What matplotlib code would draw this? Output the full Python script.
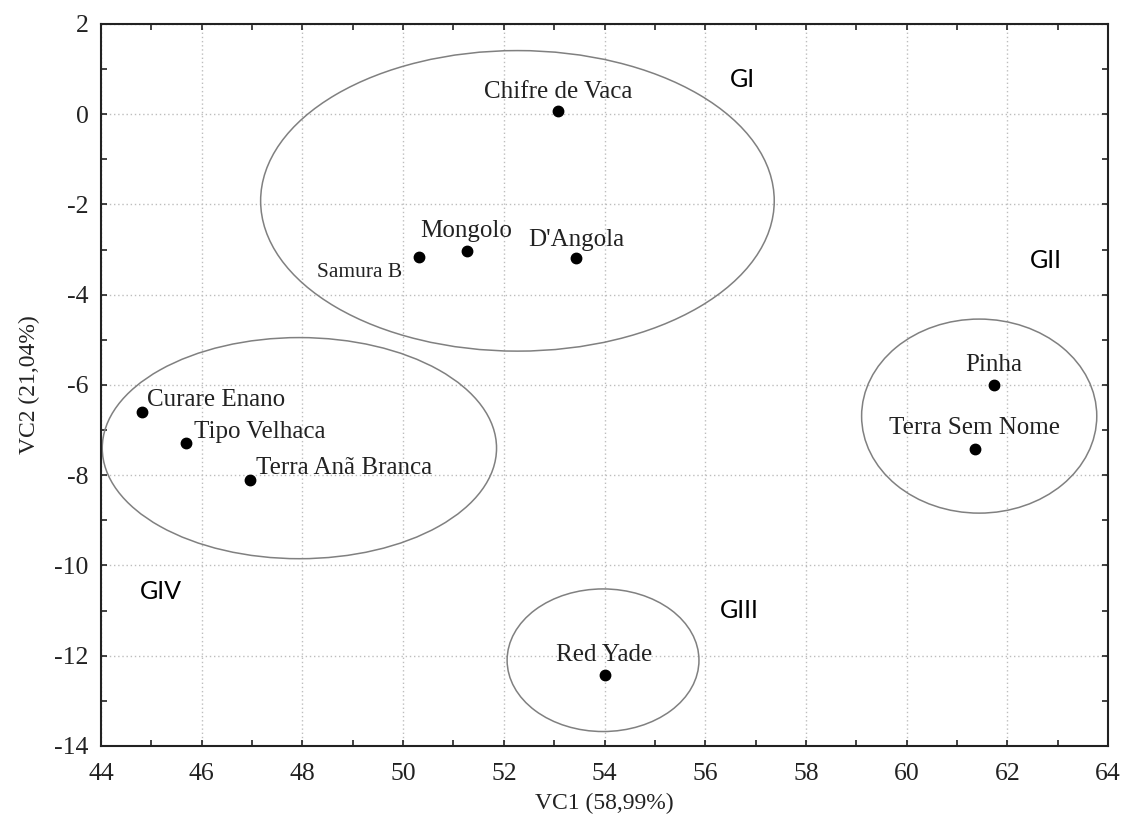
import matplotlib
matplotlib.use("Agg")
import matplotlib.pyplot as plt
from matplotlib.patches import Ellipse
from matplotlib.ticker import MultipleLocator

plt.rcParams["axes.unicode_minus"] = False

# ---- data ----
names = ["Chifre de Vaca", "Mongolo", "D'Angola", "Samura B",
         "Curare Enano", "Tipo Velhaca", "Terra Anã Branca",
         "Pinha", "Terra Sem Nome", "Red Yade"]
vc1 = [53.08, 51.26, 53.43, 50.32, 44.81, 45.69, 46.95, 61.73, 61.35, 54.00]
vc2 = [0.07, -3.03, -3.18, -3.16, -6.61, -7.28, -8.11, -6.00, -7.41, -12.42]

# label placement (offset in points, ha)
label_offsets = [(0, 14, "center"), (0, 14, "center"), (0, 12.5, "center"),
                 (-12, -11.5, "right"), (3.5, 9, "left"), (5.5, 8, "left"),
                 (5, 8.5, "left"), (0, 14.5, "center"), (0, 14.5, "center"),
                 (0, 14.5, "center")]
label_sizes = [18, 18, 18, 15.5, 18, 18, 18, 18, 18, 18]

# group ellipses: center x, center y, width, height
grp_cx = [52.27, 61.44, 53.97, 47.94]
grp_cy = [-1.92, -6.69, -12.10, -7.40]
grp_w = [10.20, 4.67, 3.81, 7.83]
grp_h = [6.66, 4.30, 3.16, 4.90]

grp_names = ["GI", "GII", "GIII", "GIV"]
grp_tx = [56.49, 62.45, 56.29, 44.77]
grp_ty = [0.76, -3.25, -10.99, -10.58]

xlabel = "VC1 (58,99%)"
ylabel = "VC2 (21,04%)"

# ---- figure ----
fig = plt.figure(figsize=(11.26, 8.32), dpi=100)
ax = fig.add_axes([0.0897, 0.1034, 0.8944, 0.8678])

serif = "Liberation Serif"

ax.set_xlim(44, 64)
ax.set_ylim(-14, 2)
ax.xaxis.set_major_locator(MultipleLocator(2))
ax.xaxis.set_minor_locator(MultipleLocator(1))
ax.yaxis.set_major_locator(MultipleLocator(2))
ax.yaxis.set_minor_locator(MultipleLocator(1))
ax.tick_params(which="both", direction="in", top=True, right=True,
               length=4, width=1.2, color="#222222")
ax.tick_params(axis="y", which="major", pad=9)
ax.tick_params(axis="x", which="major", pad=12)
for lab in ax.get_xticklabels() + ax.get_yticklabels():
    lab.set_fontfamily(serif)
    lab.set_fontsize(18.5)
    lab.set_color("#222222")
for s in ax.spines.values():
    s.set_linewidth(1.5)
    s.set_color("#222222")

ax.grid(True, which="major", linestyle=(0, (1, 2)), color="#bdbdbd",
        linewidth=1.0)
ax.set_axisbelow(True)

for cx, cy, w, h in zip(grp_cx, grp_cy, grp_w, grp_h):
    ax.add_patch(Ellipse((cx, cy), w, h, fill=False, edgecolor="#808080",
                         linewidth=1.1, zorder=2))

ax.plot(vc1, vc2, linestyle="none", marker="o", markersize=7.5,
        color="black", zorder=3)

for n, x, y, (dx, dy, ha), fs in zip(names, vc1, vc2, label_offsets, label_sizes):
    ax.annotate(n, (x, y), xytext=(dx, dy), textcoords="offset points",
                ha=ha, va="center", fontsize=fs, fontfamily=serif,
                color="#222222", zorder=4)

for g, x, y in zip(grp_names, grp_tx, grp_ty):
    ax.text(x, y, g, ha="left", va="center", fontsize=18,
            fontfamily=["Lato", "DejaVu Sans"], color="black")

ax.set_xlabel(xlabel, fontsize=17, fontfamily=serif, color="#222222",
              labelpad=6)
ax.set_ylabel(ylabel, fontsize=17, fontfamily=serif, color="#222222",
              labelpad=10)

fig.savefig("out.png", dpi=100, facecolor="white")
